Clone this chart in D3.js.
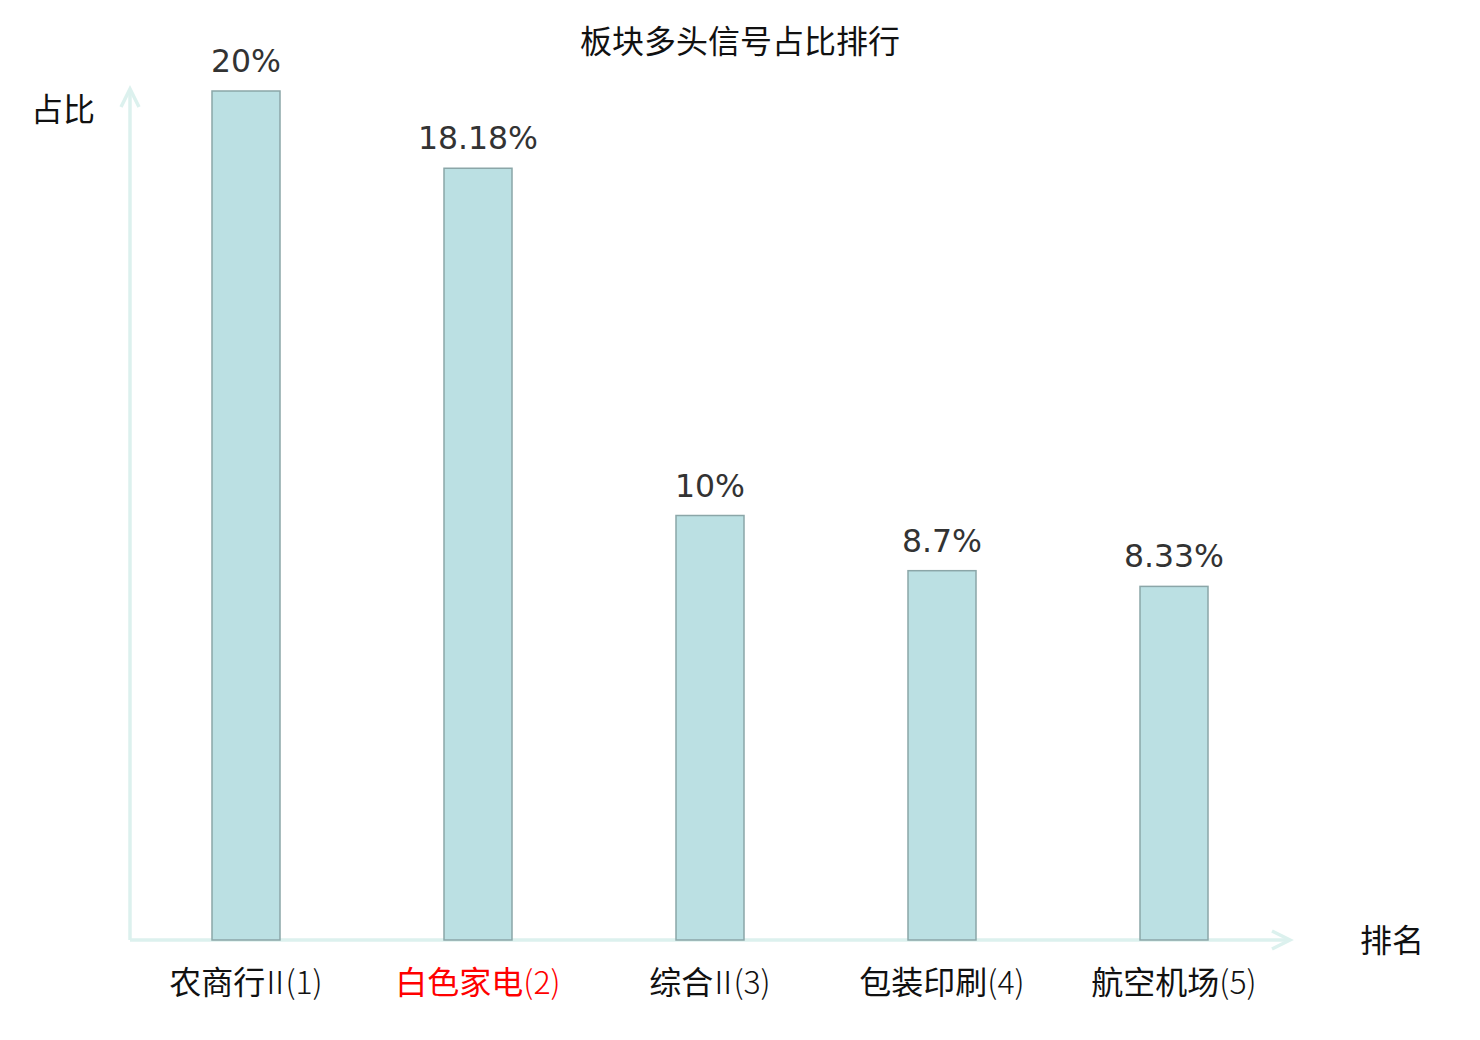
<!DOCTYPE html>
<html>
<head>
<meta charset="utf-8">
<script src="https://cdn.jsdelivr.net/npm/d3@7"></script>
<style>
  body { margin: 0; background: #fff; }
  text { font-family: "DejaVu Sans", "Noto Sans CJK SC", sans-serif; }
  .cjk { font-family: "Noto Sans CJK SC", "DejaVu Sans", sans-serif; }
  .thin { font-weight: 300; }
</style>
</head>
<body>
<div id="chart"></div>
<script>
// sectors ranked by share of long signals
const categories = ["农商行Ⅱ(1)", "白色家电(2)", "综合Ⅱ(3)", "包装印刷(4)", "航空机场(5)"];
const values = [20, 18.18, 10, 8.7, 8.33];
const valueLabels = ["20%", "18.18%", "10%", "8.7%", "8.33%"];
const highlight = "白色家电(2)";

const width = 1480, height = 1040;
const margin = { top: 91, right: 190, bottom: 100, left: 130 };
const innerW = width - margin.left - margin.right;
const innerH = height - margin.top - margin.bottom;

const svg = d3.select("#chart").append("svg")
  .attr("width", width)
  .attr("height", height);

const g = svg.append("g")
  .attr("transform", `translate(${margin.left},${margin.top})`);

const x = d3.scaleBand()
  .domain(categories)
  .range([0, innerW]);

const y = d3.scaleLinear()
  .domain([0, 20])
  .range([innerH, 0]);

const axisColor = "#dcf1ee";

// axis lines with open arrows
g.append("line")
  .attr("x1", 0).attr("y1", innerH)
  .attr("x2", innerW).attr("y2", innerH)
  .attr("stroke", axisColor).attr("stroke-width", 3.5);
g.append("path")
  .attr("d", `M${innerW - 18},${innerH - 9}L${innerW},${innerH}L${innerW - 18},${innerH + 9}`)
  .attr("fill", "none").attr("stroke", axisColor).attr("stroke-width", 3.5);

g.append("line")
  .attr("x1", 0).attr("y1", innerH)
  .attr("x2", 0).attr("y2", -2)
  .attr("stroke", axisColor).attr("stroke-width", 3.5);
g.append("path")
  .attr("d", `M-9,16L0,-2L9,16`)
  .attr("fill", "none").attr("stroke", axisColor).attr("stroke-width", 3.5);

// bars
const barW = 68;
g.selectAll("rect.bar")
  .data(values)
  .enter()
  .append("rect")
  .attr("class", "bar")
  .attr("x", (d, i) => x(categories[i]) + x.bandwidth() / 2 - barW / 2)
  .attr("y", d => y(d))
  .attr("width", barW)
  .attr("height", d => innerH - y(d))
  .attr("fill", "#bbe0e3")
  .attr("stroke", "#8ba6a8")
  .attr("stroke-width", 1.5);

// value labels
g.selectAll("text.val")
  .data(values)
  .enter()
  .append("text")
  .attr("class", "val")
  .attr("x", (d, i) => x(categories[i]) + x.bandwidth() / 2)
  .attr("y", d => y(d) - 19)
  .attr("text-anchor", "middle")
  .attr("font-size", 31.5)
  .attr("fill", "#333")
  .text((d, i) => valueLabels[i]);

// category labels: CJK part normal, roman numeral + rank thin
const cats = g.selectAll("text.cat")
  .data(categories)
  .enter()
  .append("text")
  .attr("class", "cat cjk")
  .attr("x", d => x(d) + x.bandwidth() / 2)
  .attr("y", innerH + 54)
  .attr("text-anchor", "middle")
  .attr("font-size", 32)
  .attr("fill", d => d === highlight ? "#ff0000" : "#111");

cats.each(function(d) {
  const m = d.match(/^([^Ⅱ(]+)(Ⅱ?)(\(.*\))$/);
  const t = d3.select(this);
  t.append("tspan").text(m[1]);
  if (m[2]) {
    t.append("tspan").attr("class", "thin")
      .attr("dx", -6).attr("letter-spacing", -6)
      .text(m[2]);
  }
  t.append("tspan").attr("class", "thin").text(m[3]);
});

// axis names
svg.append("text")
  .attr("class", "cjk")
  .attr("x", 63).attr("y", 121)
  .attr("text-anchor", "middle")
  .attr("font-size", 32)
  .attr("fill", "#111")
  .text("占比");

svg.append("text")
  .attr("class", "cjk")
  .attr("x", 1392).attr("y", 952)
  .attr("text-anchor", "middle")
  .attr("font-size", 32)
  .attr("fill", "#111")
  .text("排名");

// title
svg.append("text")
  .attr("class", "cjk")
  .attr("x", 740).attr("y", 53)
  .attr("text-anchor", "middle")
  .attr("font-size", 32)
  .attr("fill", "#111")
  .text("板块多头信号占比排行");
</script>
</body>
</html>
